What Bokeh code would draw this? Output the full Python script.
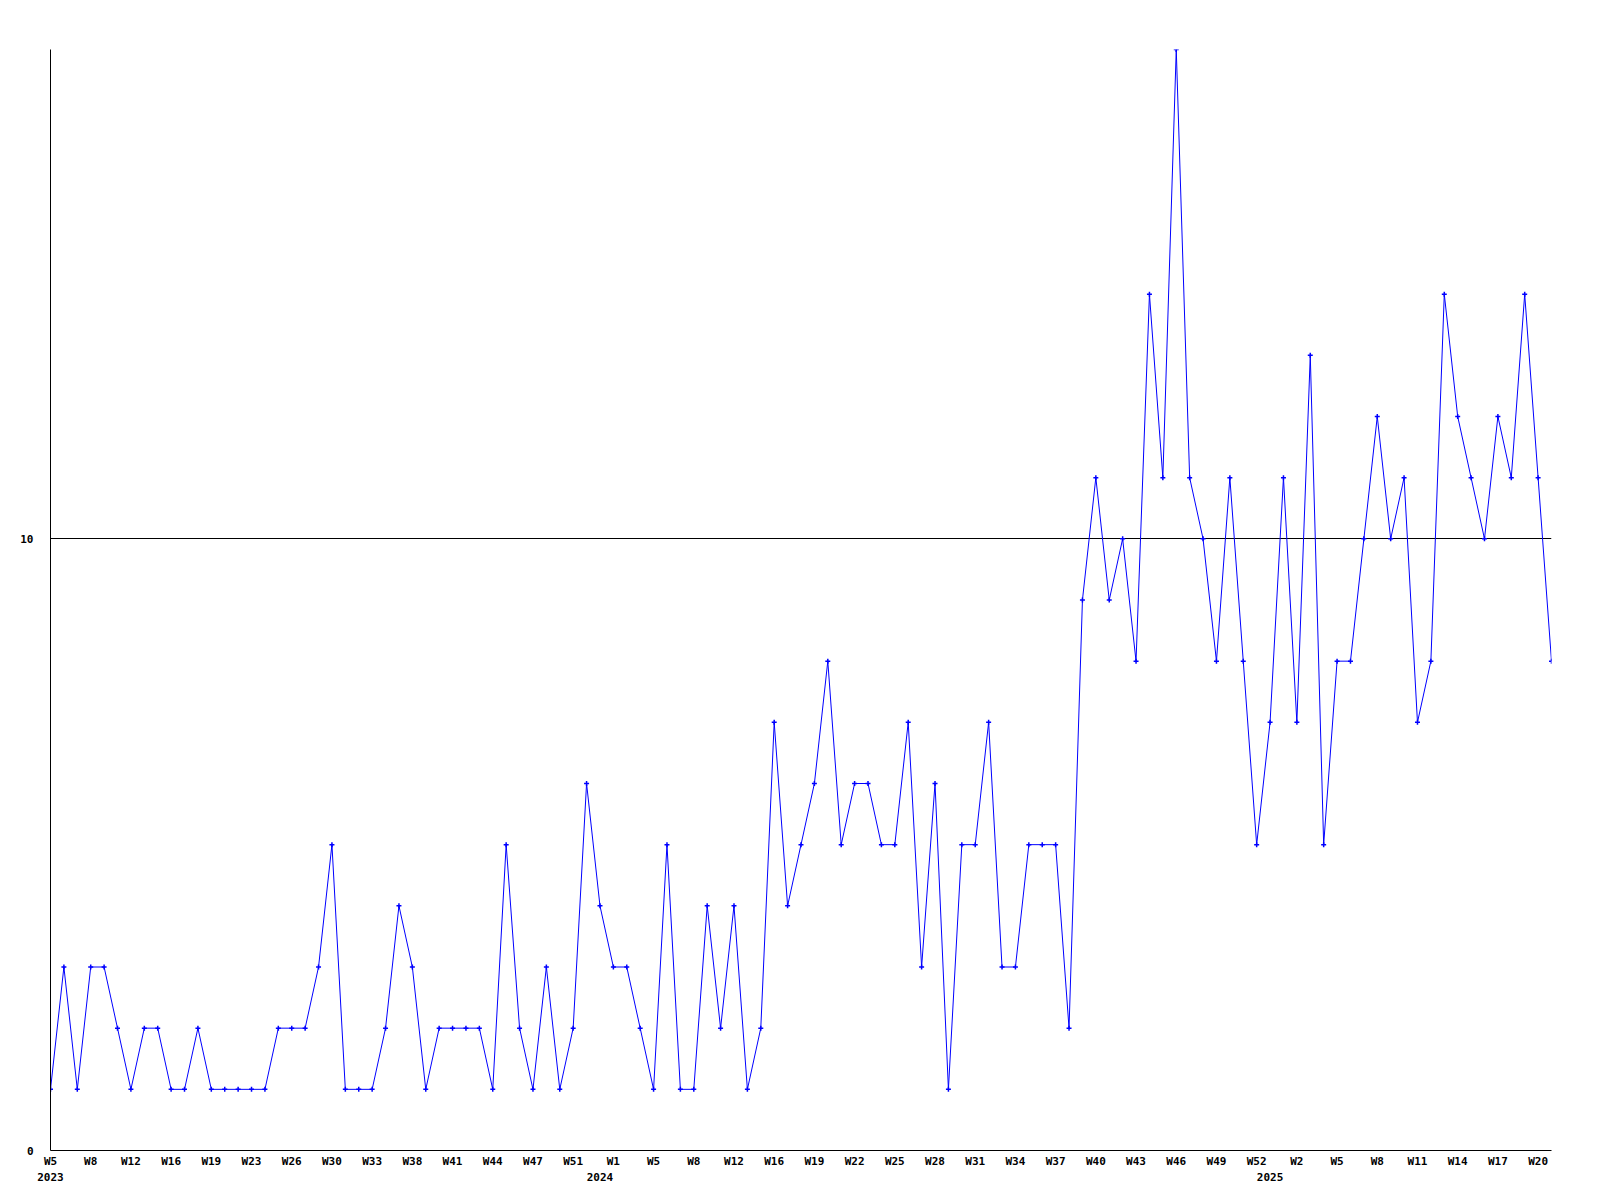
from bokeh.plotting import figure
from bokeh.models import FixedTicker, LinearAxis, Range1d
from bokeh.embed import file_html
from bokeh.resources import INLINE

# weekly counts, 2023 W5 .. 2025 W21 (weeks without entries are not shown)
values = [
    1, 3, 1, 3, 3, 2, 1, 2, 2, 1, 1, 2, 1, 1, 1, 1, 1, 2, 2, 2, 3, 5,
    1, 1, 1, 2, 4, 3, 1, 2, 2, 2, 2, 1, 5, 2, 1, 3, 1, 2, 6, 4, 3, 3,
    2, 1, 5, 1, 1, 4, 2, 4, 1, 2, 7, 4, 5, 6, 8, 5, 6, 6, 5, 5, 7,
    3, 6, 1, 5, 5, 7, 3, 3, 5, 5, 5, 2, 9,
    11, 9, 10, 8, 14, 11, 18, 11, 10, 8, 11, 8, 5, 7, 11, 7, 13, 5, 8,
    8, 10, 12, 10, 11, 7, 8, 14, 12, 11, 10, 12, 11, 14, 11, 8,
]
x = list(range(len(values)))

# week labels shown on every third point
tick_labels = [
    "W5", "W8", "W12", "W16", "W19", "W23", "W26", "W30", "W33",
    "W38", "W41", "W44", "W47", "W51", "W1", "W5", "W8", "W12", "W16",
    "W19", "W22", "W25", "W28", "W31", "W34", "W37", "W40", "W43", "W46",
    "W49", "W52", "W2", "W5", "W8", "W11", "W14", "W17", "W20",
]
tick_pos = list(range(0, len(values), 3))

year_labels = ["2023", "2024", "2025"]
year_pos = [0, 41, 91]

y_ticks = [0, 10]

FONT = "DejaVu Sans Mono"
FS = "11px"

p = figure(
    frame_width=1501, frame_height=1101,
    x_range=Range1d(0, len(values) - 1), y_range=Range1d(0, 18),
    output_backend="svg", toolbar_location=None,
    min_border_left=50, min_border_top=49, min_border_right=20, min_border_bottom=5,
)
p.outline_line_color = None
p.background_fill_color = "white"
p.border_fill_color = "white"

# y axis
ya = p.yaxis[0]
ya.ticker = FixedTicker(ticks=y_ticks)
ya.major_tick_out = 0
ya.major_tick_in = 0
ya.minor_tick_line_color = None
ya.major_tick_line_color = None
ya.axis_line_color = "black"
ya.major_label_standoff = 17
ya.major_label_text_font = FONT
ya.major_label_text_font_style = "bold"
ya.major_label_text_font_size = FS
ya.major_label_text_color = "black"

# x axis (weeks)
xa = p.xaxis[0]
xa.ticker = FixedTicker(ticks=tick_pos)
xa.major_label_overrides = {t: l for t, l in zip(tick_pos, tick_labels)}
xa.major_tick_out = 0
xa.major_tick_in = 0
xa.minor_tick_line_color = None
xa.major_tick_line_color = None
xa.axis_line_color = "black"
xa.major_label_standoff = 4
xa.major_label_text_font = FONT
xa.major_label_text_font_style = "bold"
xa.major_label_text_font_size = FS
xa.major_label_text_color = "black"

# second row: years
yr = LinearAxis(
    ticker=FixedTicker(ticks=year_pos),
    major_label_overrides={t: l for t, l in zip(year_pos, year_labels)},
    axis_line_color=None, major_tick_line_color=None, minor_tick_line_color=None,
    major_tick_out=0, major_tick_in=0, major_label_standoff=2,
    major_label_text_font=FONT, major_label_text_font_style="bold",
    major_label_text_font_size=FS, major_label_text_color="black",
)
p.add_layout(yr, "below")

p.xgrid.visible = False
p.ygrid.ticker = FixedTicker(ticks=[10])
p.ygrid.grid_line_color = "black"
p.ygrid.grid_line_width = 1

p.line(x, values, line_color="#0000ff", line_width=1)
p.scatter(x, values, marker="cross", size=5, line_color="#0000ff", line_width=1.5)

open("out.html", "w").write(file_html(p, INLINE))
